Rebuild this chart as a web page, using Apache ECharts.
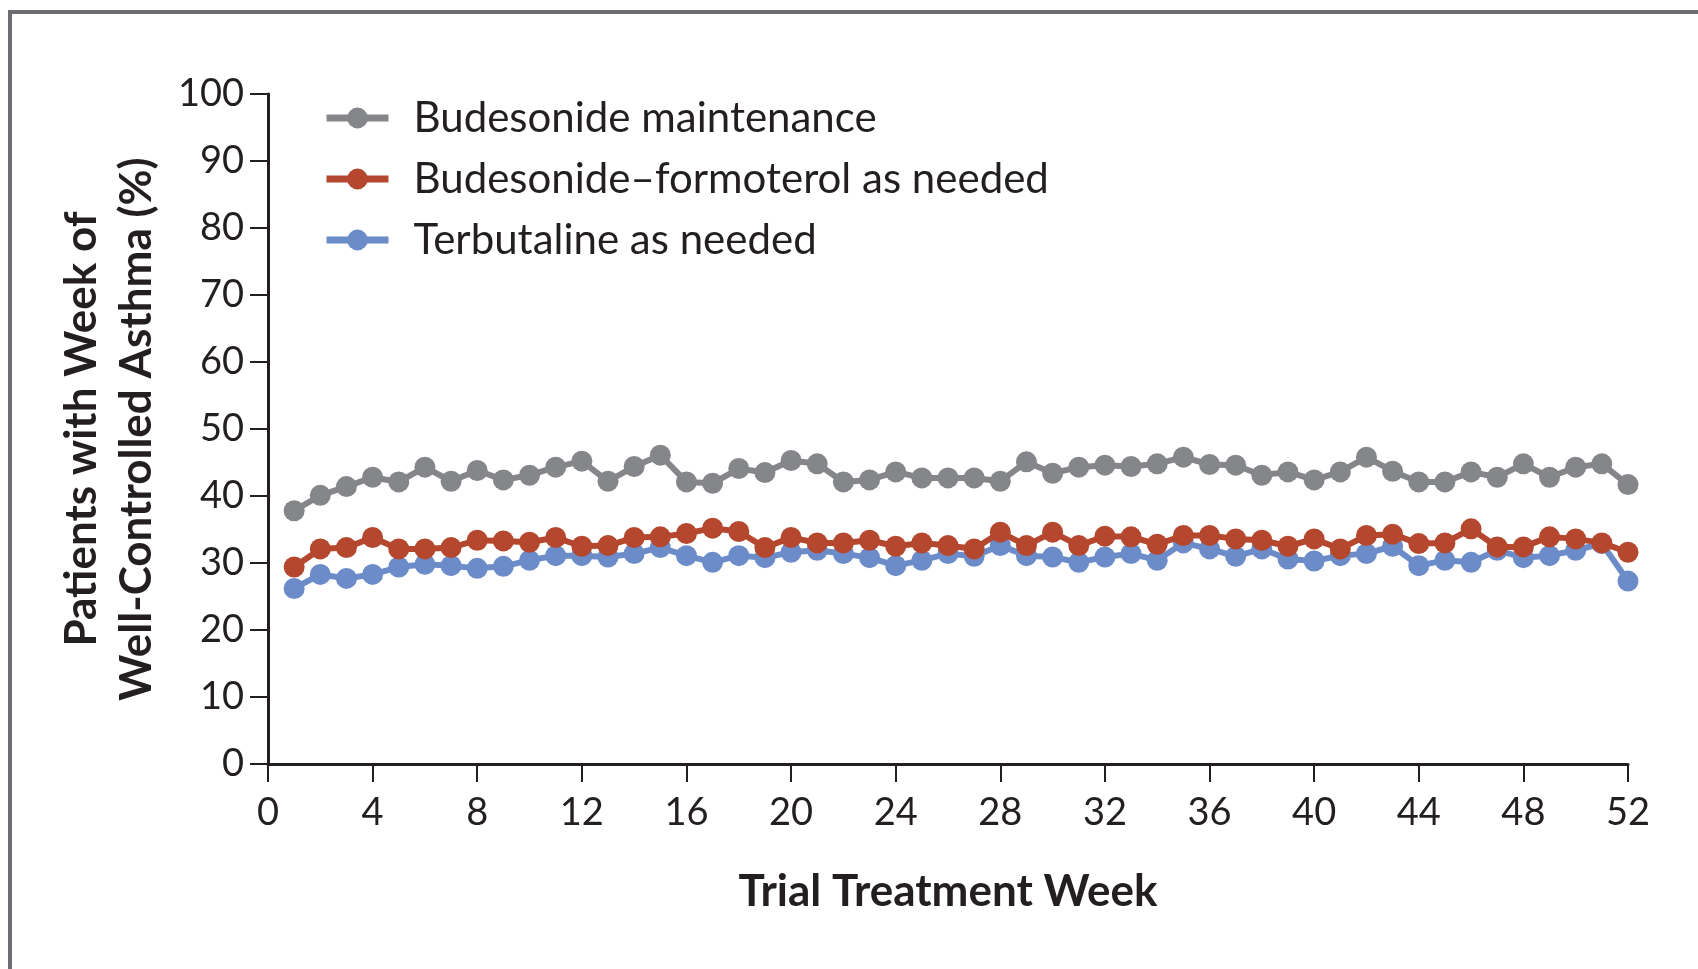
<!DOCTYPE html>
<html>
<head>
<meta charset="utf-8">
<title>Well-Controlled Asthma Weeks</title>
<script src="https://cdn.jsdelivr.net/npm/echarts@6/dist/echarts.min.js"></script>
<style>
  html, body { margin: 0; padding: 0; background: #fff; }
  #chart { width: 1698px; height: 969px; }
</style>
</head>
<body>
<div id="chart"></div>
<script>
const weeks = [1, 2, 3, 4, 5, 6, 7, 8, 9, 10, 11, 12, 13, 14, 15, 16, 17, 18, 19, 20, 21, 22, 23, 24, 25, 26,
  27, 28, 29, 30, 31, 32, 33, 34, 35, 36, 37, 38, 39, 40, 41, 42, 43, 44, 45, 46, 47, 48, 49, 50, 51, 52]

const seriesNames = ['Budesonide maintenance', 'Budesonide\u2013formoterol as needed', 'Terbutaline as needed']

const budesonideMaint = [37.8, 40.1, 41.4, 42.8, 42.1, 44.3, 42.2, 43.8, 42.4, 43.1, 44.3, 45.2, 42.2, 44.4, 46.1, 42.1,
  41.9, 44.1, 43.5, 45.3, 44.8, 42.1, 42.4, 43.6, 42.7, 42.7, 42.7, 42.2, 45.1, 43.4, 44.3, 44.6, 44.4, 44.8, 45.8,
  44.7, 44.6, 43.1, 43.6, 42.4, 43.6, 45.8, 43.7, 42.1, 42.1, 43.6, 42.8, 44.8, 42.8, 44.3, 44.8, 41.7]

const budFormAsNeeded = [29.4, 32.1, 32.3, 33.8, 32.1, 32.1, 32.3, 33.4, 33.3, 33.1, 33.8, 32.5, 32.6, 33.8, 33.9, 34.4,
  35.2, 34.7, 32.3, 33.8, 33.0, 33.0, 33.4, 32.5, 33.0, 32.6, 32.1, 34.6, 32.6, 34.6, 32.6, 34.0, 33.9, 32.8, 34.1,
  34.1, 33.6, 33.4, 32.5, 33.6, 32.1, 34.1, 34.3, 32.9, 33.0, 35.1, 32.4, 32.4, 33.9, 33.6, 33.0, 31.6]

const terbutalineAsNeeded = [26.2, 28.3, 27.7, 28.3, 29.4, 29.8, 29.6, 29.2, 29.5, 30.4, 31.1, 31.1, 30.9, 31.4, 32.3, 31.1,
  30.1, 31.1, 30.8, 31.6, 31.9, 31.4, 30.8, 29.6, 30.4, 31.4, 31.0, 32.6, 31.1, 30.9, 30.1, 30.9, 31.4, 30.4, 33.0,
  32.1, 31.0, 32.1, 30.6, 30.3, 31.1, 31.4, 32.5, 29.6, 30.4, 30.1, 31.9, 30.8, 31.1, 31.9, 32.9, 27.3]

const colors = ['#858689', '#b4472e', '#6b8cc8']
const textColor = '#231f20'
const fontFamily = 'Lato, "Open Sans", sans-serif'

const pairs = (vals) => weeks.map((w, i) => [w, vals[i]])

const chart = echarts.init(document.getElementById('chart'))

const makeSeries = (name, vals, color, z) => ({
  name: name,
  type: 'line',
  data: pairs(vals),
  symbol: 'circle',
  symbolSize: 21,
  z: z,
  itemStyle: { color: color },
  lineStyle: { color: color, width: 6 },
  animation: false
})

const option = {
  backgroundColor: '#fff',
  graphic: [{
    type: 'rect',
    shape: { x: 10, y: 12, width: 2000, height: 2000 },
    style: { fill: 'none', stroke: '#6d6e71', lineWidth: 4 },
    silent: true
  }],
  grid: { left: 268, right: 70, top: 94, bottom: 205 },
  legend: {
    orient: 'vertical',
    left: 318,
    top: 90,
    itemWidth: 62,
    itemHeight: 26,
    itemGap: 15,
    data: seriesNames,
    lineStyle: { width: 7 },
    textStyle: { color: textColor, fontSize: 42, fontFamily: fontFamily, lineHeight: 46, padding: [0, 0, 0, 20] }
  },
  xAxis: {
    type: 'value',
    min: 0,
    max: 52,
    interval: 4,
    name: 'Trial Treatment Week',
    nameLocation: 'middle',
    nameGap: 106,
    nameTextStyle: { color: textColor, fontSize: 44, fontWeight: 'bold', fontFamily: fontFamily },
    splitLine: { show: false },
    axisLine: { lineStyle: { color: textColor, width: 3 } },
    axisTick: { length: 18, lineStyle: { color: textColor, width: 2 } },
    axisLabel: { color: textColor, fontSize: 38, fontFamily: fontFamily, margin: 30 }
  },
  yAxis: {
    type: 'value',
    min: 0,
    max: 100,
    interval: 10,
    name: 'Patients with Week of\nWell-Controlled Asthma (%)',
    nameLocation: 'middle',
    nameRotate: 90,
    nameGap: 104,
    nameTextStyle: { color: textColor, fontSize: 44, fontWeight: 'bold', fontFamily: fontFamily, lineHeight: 55 },
    splitLine: { show: false },
    axisLine: { show: true, lineStyle: { color: textColor, width: 3 } },
    axisTick: { show: true, length: 18, lineStyle: { color: textColor, width: 2 } },
    axisLabel: { color: textColor, fontSize: 38, fontFamily: fontFamily, margin: 24 }
  },
  series: [
    makeSeries(seriesNames[0], budesonideMaint, colors[0], 2),
    makeSeries(seriesNames[1], budFormAsNeeded, colors[1], 4),
    makeSeries(seriesNames[2], terbutalineAsNeeded, colors[2], 3)
  ]
}

chart.setOption(option)
</script>
</body>
</html>
